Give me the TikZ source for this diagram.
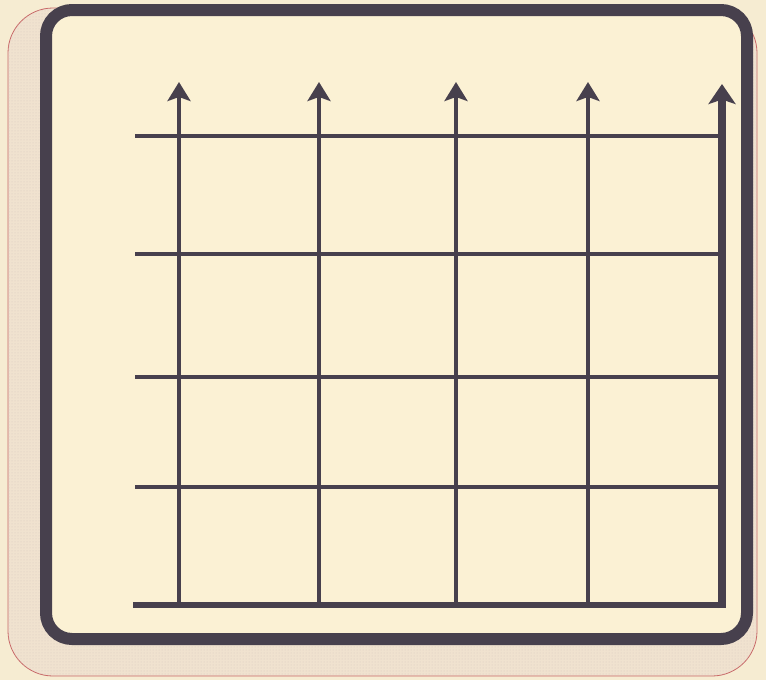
\documentclass[tikz,border=0pt]{standalone}
\usetikzlibrary{arrows.meta,patterns}
\definecolor{paper}{HTML}{F6ECD2}
\definecolor{inner}{HTML}{FBF1D4}
\definecolor{ink}{HTML}{47404D}
\definecolor{shade}{HTML}{F0E2CF}
\definecolor{dotc}{HTML}{D9C9BE}
\definecolor{redline}{HTML}{C86868}
\tikzset{
  gridline/.style={ink, line width=4pt},
  uparrow/.style={ink, line width=4.5pt, -{Stealth[length=19pt 0, width=23pt 0, inset=4pt 0]}},
  bigarrow/.style={ink, line width=7.5pt, -{Stealth[length=20pt 0, width=27pt 0, inset=4.5pt 0]}},
  frame/.style={ink, line width=12pt, rounded corners=26pt, fill=inner},
  shadowbox/.style={redline, line width=0.8pt, rounded corners=45pt, fill=shade},
}
\begin{document}
\begin{tikzpicture}[x=1pt,y=-1pt]
\fill[paper] (0,0) rectangle (766,680);
\useasboundingbox (0,0) rectangle (766,680);
% shadow
\draw[shadowbox] (8,8) rectangle (757,676);
\fill[pattern=dots, pattern color=dotc, rounded corners=45pt] (8,8) rectangle (757,676);
% frame
\draw[frame] (46,10) rectangle (747,639);
% coordinates
\foreach \n/\y in {1/136,2/254,3/377,4/487} {
  \coordinate (hl\n) at (135,\y);
  \coordinate (hr\n) at (720,\y);
}
\coordinate (hl5) at (133,605);
\coordinate (hr5) at (726,605);
\foreach \n/\x in {1/179,2/319,3/456,4/588} {
  \coordinate (vb\n) at (\x,605);
  \coordinate (vt\n) at (\x,82);
}
\coordinate (vb5) at (722,608);
\coordinate (vt5) at (722,84);
% horizontals
\foreach \n in {1,2,3,4} { \draw[gridline] (hl\n) -- (hr\n); }
\draw[ink, line width=5.5pt] (hl5) -- (hr5);
% verticals
\foreach \n in {1,2,3,4} { \draw[uparrow] (vb\n) -- (vt\n); }
\draw[bigarrow] (vb5) -- (vt5);
\end{tikzpicture}
\end{document}
